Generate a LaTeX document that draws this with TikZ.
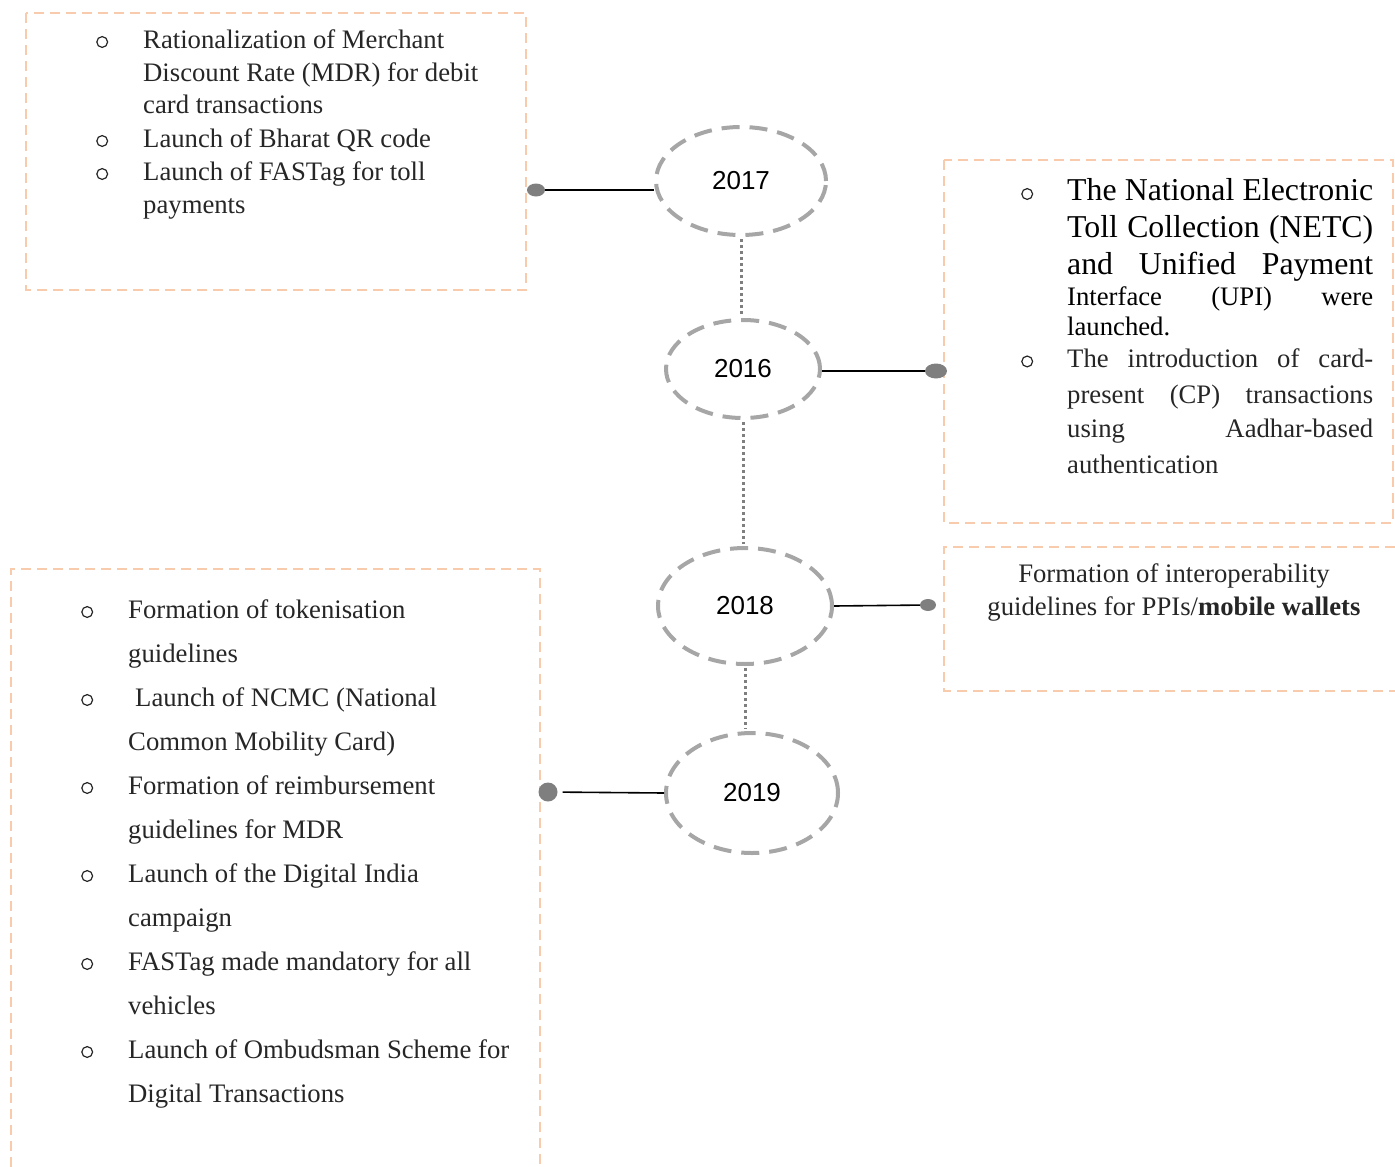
\documentclass[tikz,border=0pt]{standalone}
\usepackage{fontspec}
\setmainfont{Liberation Serif}
\setsansfont{Liberation Sans}
\usepackage{xcolor}
\usepackage{tikz}
\usetikzlibrary{shapes.geometric, positioning}

\definecolor{peach}{HTML}{F8CBAD}
\definecolor{ringgray}{HTML}{A6A6A6}
\definecolor{dotgray}{HTML}{7F7F7F}
\definecolor{txtgray}{HTML}{262626}

% hollow round bullet, 16pt wide
\newcommand{\bul}{\tikz[x=1pt,y=1pt,baseline=0pt]{\useasboundingbox (0,0) rectangle (16,12);
  \draw[line width=1.2pt, txtgray] (8,6) circle (5.4);}}
\newcommand{\just}[1]{\makebox[306pt][s]{#1}}

\begin{document}
\begin{tikzpicture}[x=1pt, y=-1pt,
  eventbox/.style={draw=peach, line width=2pt, dash pattern=on 10pt off 6pt},
  yearring/.style={ellipse, draw=ringgray, line width=4pt, dash pattern=on 18pt off 10pt,
    inner sep=0pt, font=\sffamily\fontsize{26}{30}\selectfont},
  timelink/.style={draw=dotgray, line width=3pt, dash pattern=on 3pt off 3pt,
    shorten <=2pt, shorten >=2pt},
  boxlink/.style={draw=black, line width=1.6pt},
  enddot/.style={ellipse, fill=dotgray, inner sep=0pt},
  listtext/.style={anchor=base west, inner sep=0pt, text=txtgray}]
  \useasboundingbox (0,0) rectangle (1395,1167);

  % ---- dashed event boxes (pixel coords, y down) ----
  \draw[eventbox] (26,13) rectangle (526,290);      % 2017
  \draw[eventbox] (944,160) rectangle (1393,523);   % 2016
  \draw[eventbox] (1395,547) -- (944,547) -- (944,691) -- (1395,691); % 2018, open on the right
  \draw[eventbox] (11,1167) -- (11,569) -- (540,569) -- (540,1167);   % 2019, open at the bottom

  % ---- box texts ----
  \node[listtext] (txt2017) at (94,48) {\fontsize{26.7}{33}\selectfont
    \begin{tabular}[t]{@{}l@{\hspace{33pt}}l@{}}
      \bul & Rationalization of Merchant\\
           & Discount Rate (MDR) for debit\\
           & card transactions\\
      \bul & Launch of Bharat QR code\\
      \bul & Launch of FASTag for toll\\
           & payments
    \end{tabular}};

  \node[listtext] (txt2016) at (1019,200) {\fontsize{26.7}{30}\selectfont
    \begin{tabular}[t]{@{}l@{\hspace{32pt}}l@{}}
      \bul & \fontsize{31.8}{37}\selectfont\color{black}\just{The National Electronic}\\[6pt]
           & \fontsize{31.8}{37}\selectfont\color{black}\just{Toll Collection (NETC)}\\[6pt]
           & \fontsize{31.8}{37}\selectfont\color{black}\just{and Unified Payment}\\[1pt]
           & \color{black}\just{Interface (UPI) were}\\
           & \color{black}launched.\\[2pt]
      \bul & \just{The introduction of card-}\\[6pt]
           & \just{present (CP) transactions}\\[4pt]
           & \just{using Aadhar-based}\\[6pt]
           & authentication
    \end{tabular}};

  \node[anchor=base, inner sep=0pt, text=txtgray] (txt2018) at (1174,582)
    {\fontsize{26.7}{33}\selectfont
    \begin{tabular}[t]{@{}c@{}}
      Formation of interoperability\\
      guidelines for PPIs/\textbf{mobile wallets}
    \end{tabular}};

  \node[listtext] (txt2019) at (79,618) {\fontsize{26.7}{44}\selectfont
    \begin{tabular}[t]{@{}l@{\hspace{33pt}}l@{}}
      \bul & Formation of tokenisation\\
           & guidelines\\
      \bul & \hspace{7pt}Launch of NCMC (National\\
           & Common Mobility Card)\\
      \bul & Formation of reimbursement\\
           & guidelines for MDR\\
      \bul & Launch of the Digital India\\
           & campaign\\
      \bul & FASTag made mandatory for all\\
           & vehicles\\
      \bul & Launch of Ombudsman Scheme for\\
           & Digital Transactions
    \end{tabular}};

  % ---- year rings ----
  \node[yearring, minimum width=170pt, minimum height=108pt] (y2017) at (741,181) {2017};
  \node[yearring, minimum width=154pt, minimum height=98pt]  (y2016) at (743,369) {2016};
  \node[yearring, minimum width=174pt, minimum height=116pt] (y2018) at (745,606) {2018};
  \node[yearring, minimum width=172pt, minimum height=120pt] (y2019) at (752,793) {2019};

  % ---- end dots on the boxes ----
  \node[enddot, minimum width=18pt, minimum height=13pt] (d2017) at (536,190) {};
  \node[enddot, minimum width=22pt, minimum height=15pt] (d2016) at (936,371) {};
  \node[enddot, minimum width=16pt, minimum height=12pt] (d2018) at (928,605) {};
  \node[enddot, circle, minimum size=19pt] (d2019) at (548,792) {};

  % ---- connectors ----
  \draw[timelink] (y2017.south) -- (y2017.south |- y2016.north);
  \draw[timelink] (y2016.south) -- (y2016.south |- y2018.north);
  \draw[timelink] (y2018.south) -- (y2018.south |- y2019.north);

  \draw[boxlink] (d2017) -- (d2017 -| y2017.west);
  \draw[boxlink] (y2016.east |- d2016) -- (d2016);
  \draw[boxlink] (y2018.east) -- (d2018);
  \draw[boxlink, shorten <=5pt] (d2019) -- (y2019.west);
\end{tikzpicture}
\end{document}
